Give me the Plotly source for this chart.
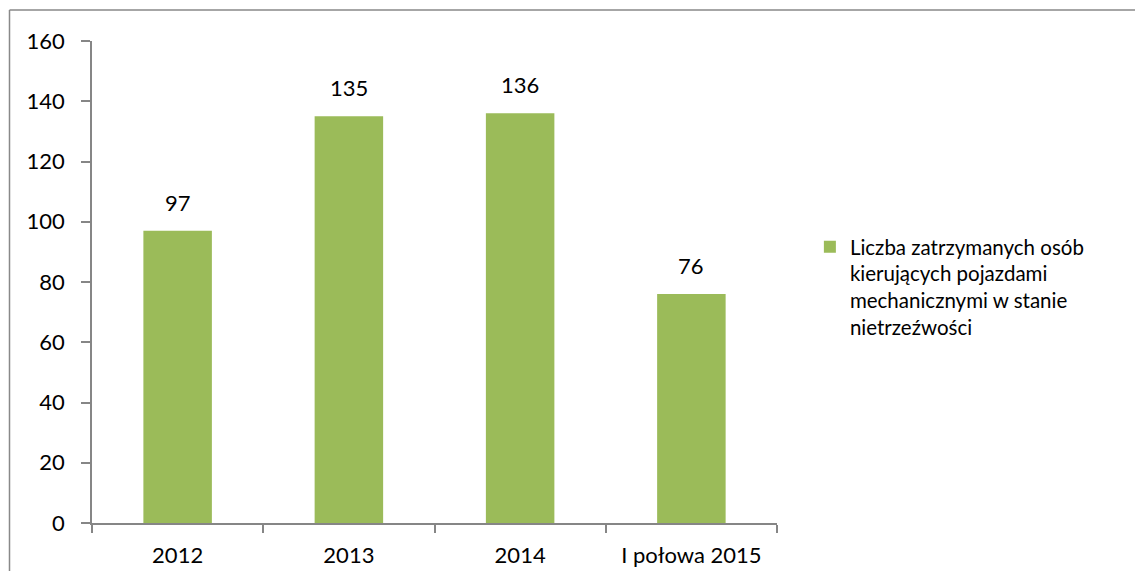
import plotly.graph_objects as go

categories = ["2012", "2013", "2014", "I połowa 2015"]
values = [97, 135, 136, 76]
series_name = "Liczba zatrzymanych osób<br>kierujących pojazdami<br>mechanicznymi w stanie<br>nietrzeźwości"
y_ticks = [0, 20, 40, 60, 80, 100, 120, 140, 160]

FONT = "Lato"
AX = "#868686"

# page body has an 8px margin -> figure is 1131x567 placed at (8, 8)
ML, MT, PW, PH = 84, 33, 685, 482
W, H = 1131, 567

fig = go.Figure()
fig.add_trace(go.Bar(
    x=categories, y=values, name=series_name,
    marker=dict(color="#9BBB59", line=dict(width=0)),
    width=0.4,
    showlegend=True,
))
for i, v in enumerate(values):
    fig.add_annotation(x=i, y=v, text=str(v), showarrow=False,
                       xref="x", yref="y",
                       yanchor="bottom", yshift=13,
                       font=dict(family=FONT, size=22, color="#000000"))

bx = (1.5 - ML) / PW
by = 1 + (MT - 2) / PH
fig.update_layout(
    width=W, height=H,
    margin=dict(l=ML, r=W - ML - PW, t=MT, b=H - MT - PH),
    paper_bgcolor="white", plot_bgcolor="white",
    font=dict(family=FONT, size=22, color="#000000"),
    showlegend=True,
    legend=dict(
        x=1.048, xanchor="left", y=0.49, yanchor="middle",
        valign="top",
        font=dict(family=FONT, size=20.5, color="#000000"),
        bgcolor="rgba(0,0,0,0)", itemwidth=30,
    ),
    xaxis=dict(
        type="category", categoryorder="array", categoryarray=categories,
        range=[-0.5, len(categories) - 0.5], automargin=False,
        showline=True, linecolor=AX, linewidth=1.5,
        ticks="outside", ticklen=8, tickcolor=AX, tickwidth=1.5,
        tickson="boundaries", showgrid=False, zeroline=False,
        ticklabelstandoff=12, tickangle=0,
        tickfont=dict(family=FONT, size=22, color="#000000"),
    ),
    yaxis=dict(
        range=[0, 160], tickvals=y_ticks, showgrid=False, zeroline=False,
        automargin=False,
        showline=True, linecolor=AX, linewidth=1.5,
        ticks="outside", ticklen=9, tickcolor=AX, tickwidth=1.5,
        ticklabelstandoff=12,
        tickfont=dict(family=FONT, size=22, color="#000000"),
    ),
    shapes=[
        dict(type="line", xref="paper", yref="paper",
             x0=bx, x1=bx, y0=-(H - MT - PH - 4) / PH, y1=by,
             line=dict(color="#898989", width=1.5), layer="below"),
        dict(type="line", xref="paper", yref="paper",
             x0=bx, x1=(W - 4 - ML) / PW, y0=by, y1=by,
             line=dict(color="#898989", width=1.5), layer="below"),
    ],
)

fig.write_html("out.html")
